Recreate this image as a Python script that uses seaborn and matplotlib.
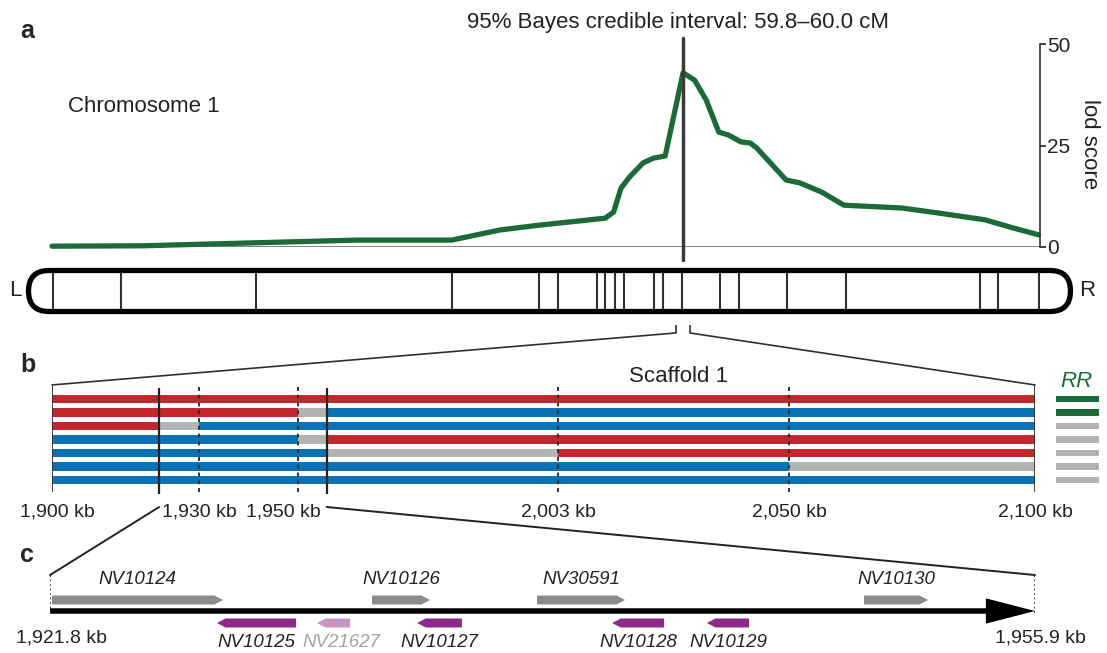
import numpy as np
import pandas as pd
import matplotlib
matplotlib.use("Agg")
import matplotlib.pyplot as plt
from matplotlib.patches import FancyBboxPatch, FancyArrow, ConnectionPatch
import seaborn as sns

# ------------------------------------------------------------------ data
# panel a: lod profile along chromosome 1
lod_cM = [0.0, 8.7, 18.8, 29.0, 38.0, 42.6, 46.4, 52.6, 53.4, 54.1, 54.9, 56.2,
          57.2, 58.3, 60.0, 61.1, 62.2, 63.4, 64.3, 65.5, 66.4, 67.0, 69.8, 71.1,
          73.2, 75.3, 80.8, 84.2, 88.7, 91.1, 93.8]
lod_score = [0.2, 0.3, 1.0, 1.7, 1.7, 4.2, 5.4, 7.1, 8.6, 14.5, 17.2, 20.7,
             21.9, 22.4, 42.9, 41.1, 36.2, 28.3, 27.6, 25.9, 25.6, 24.4, 16.5, 15.8,
             13.5, 10.3, 9.6, 8.4, 6.7, 4.9, 3.0]
lod_ticks = [0, 25, 50]
peak_cM = 60.0
marker_cM = [0.1, 6.6, 19.4, 38.0, 46.3, 48.1, 51.8, 52.6, 53.5, 54.4, 57.2,
             58.1, 59.9, 63.5, 65.3, 69.9, 75.5, 88.2, 89.9, 93.8]
scaffold_cM = [59.33, 60.66]

# panel b: genotypes along scaffold 1
scaffold_breaks_kb = [1900, 1921.8, 1930, 1950, 1955.9, 2003, 2050, 2100]
# A = red allele, B = blue allele, - = undetermined (grey)
genotypes = ["AAAAAAA", "AAA-BBB", "A-BBBBB", "BBB-AAA", "BBBB-AA", "BBBBBB-", "BBBBBBB"]
rr_status = [True, True, False, False, False, False, False]
scaffold_tick_kb = [1900, 1930, 1950, 2003, 2050, 2100]
scaffold_tick_labels = ["1,900 kb", "1,930 kb", "1,950 kb", "2,003 kb", "2,050 kb", "2,100 kb"]
dashed_kb = [1930, 1950, 2003, 2050]
interval_kb = [1921.8, 1955.9]

# panel c: genes in the interval
gene_names = ["NV10124", "NV10126", "NV30591", "NV10130",
              "NV10125", "NV21627", "NV10127", "NV10128", "NV10129"]
gene_start = [1921.87, 1932.95, 1938.66, 1949.98,
              1927.58, 1931.04, 1934.51, 1941.26, 1944.54]
gene_end = [1927.79, 1934.96, 1941.71, 1952.20,
            1930.32, 1932.19, 1936.06, 1943.06, 1946.00]
gene_strand = ["+", "+", "+", "+", "-", "-", "-", "-", "-"]
gene_faint = [False, False, False, False, False, True, False, False, False]
interval_labels = ["1,921.8 kb", "1,955.9 kb"]

# ------------------------------------------------------------------ style
sns.set_style("white")
plt.rcParams['font.family'] = ['Liberation Sans', 'DejaVu Sans']

GREEN = "#1b6a37"
RED = "#c1272d"
BLUE = "#0b72b6"
GREY = "#b3b3b3"
GENE_GREY = "#8b8b8b"
PURPLE = "#8c2b8c"
LIGHT_PURPLE = "#c597c5"
DARK = "#303030"
allele_colors = {"A": RED, "B": BLUE, "-": GREY}

W, H = 1107, 653
fig = plt.figure(figsize=(W / 100, H / 100), dpi=100)


def rect(l, t, r, b):
    return [l / W, 1 - b / H, (r - l) / W, (b - t) / H]


def ftext(x, y, s, **kw):
    fig.text(x / W, 1 - y / H, s, **kw)


# ------------------------------------------------------------------ panel a
ax_a = fig.add_axes(rect(52, 44, 1040, 247))
ax_a.patch.set_visible(False)
df = pd.DataFrame({"cM": lod_cM, "lod": lod_score})
sns.lineplot(data=df, x="cM", y="lod", ax=ax_a, color=GREEN, linewidth=3.8,
             clip_on=False, zorder=2, solid_capstyle="round", solid_joinstyle="round")
ax_a.set_xlim(0, 93.94)
ax_a.set_ylim(0, 50)
ax_a.axhline(0, color="#777777", lw=1.3, zorder=1)
ax_a.plot([peak_cM, peak_cM], [-3.2, 51.5], color="#3a3a3a", lw=2.5,
          clip_on=False, zorder=3)
ax_a.set_xticks([])
ax_a.set_yticks(lod_ticks)
ax_a.yaxis.tick_right()
ax_a.tick_params(axis="y", direction="out", length=4, width=1.2, labelsize=15,
                 pad=1, colors="#222222")
ax_a.set_xlabel("")
ax_a.set_ylabel("")
for side in ["top", "left", "bottom"]:
    ax_a.spines[side].set_visible(False)
ax_a.spines["right"].set_color("#333333")
ax_a.spines["right"].set_linewidth(1.2)

ftext(20, 38, "a", fontsize=18, fontweight="bold", ha="left", va="baseline")
ftext(678, 28, "95% Bayes credible interval: 59.8\u201360.0 cM", fontsize=16,
      ha="center", va="baseline", color="#222222")
ftext(68, 112, "Chromosome 1", fontsize=16, ha="left", va="baseline", color="#222222")
ftext(1090, 144, "lod score", fontsize=16, rotation=270, ha="center", va="center",
      color="#222222")

# ------------------------------------------------------------------ chromosome
ax_chr = fig.add_axes(rect(52, 262, 1040, 340))
ax_chr.patch.set_visible(False)
ax_chr.set_xlim(0, 93.94)
ax_chr.set_ylim(-4.659, 2.757)
ax_chr.axis("off")
chrom = FancyBboxPatch((-2.234, -1.949), 99.07, 3.898,
                       boxstyle="round,pad=0,rounding_size=1.949",
                       fc="white", ec="black", lw=3.8, clip_on=False, zorder=2)
ax_chr.add_patch(chrom)
ax_chr.vlines(marker_cM, -1.71, 1.71, color=DARK, lw=1.5, zorder=3)
ax_chr.vlines(scaffold_cM, -3.99, -3.23, color=DARK, lw=1.2)
ftext(15, 290, "L", fontsize=16, ha="center", va="center", color="#222222")
ftext(1087, 290, "R", fontsize=16, ha="center", va="center", color="#222222")

# ------------------------------------------------------------------ panel b
ax_b = fig.add_axes(rect(52, 385.5, 1035, 493.5))
ax_b.patch.set_visible(False)
ax_b.set_xlim(1900, 2100)
ax_b.set_ylim(7, -1)
ax_b.axis("off")
for i, code in enumerate(genotypes):
    for j, c in enumerate(code):
        ax_b.barh(i, scaffold_breaks_kb[j + 1] - scaffold_breaks_kb[j],
                  left=scaffold_breaks_kb[j], height=0.6,
                  color=allele_colors[c], linewidth=0, zorder=2)
for i, rr in enumerate(rr_status):
    ax_b.barh(i, 8.75, left=2104.27, height=0.5, color=GREEN if rr else GREY,
              linewidth=0, clip_on=False)
ax_b.vlines([scaffold_breaks_kb[0], scaffold_breaks_kb[-1]], -1.04, 6.89,
            color=DARK, lw=1.3, zorder=3)
ax_b.vlines(interval_kb, -0.81, 8.0, color="#222222", lw=1.6, zorder=3)
ax_b.vlines(dashed_kb, -0.89, 6.96, color=DARK, lw=1.4, linestyles=(0, (2, 2)),
            zorder=3)
for kb, lab in zip(scaffold_tick_kb, scaffold_tick_labels):
    dx = -10 if kb == 1950 else (4 if kb == 1900 else 0)
    ax_b.annotate(lab, (kb, 8.37), xytext=(dx, 0), textcoords="offset points",
                  ha="center", va="center", fontsize=14, color="#222222",
                  annotation_clip=False)
ftext(20, 372, "b", fontsize=18, fontweight="bold", ha="left", va="baseline")
ftext(629, 382, "Scaffold 1", fontsize=16, ha="left", va="baseline", color="#222222")
ftext(1076, 387, "RR", fontsize=16, style="italic", color=GREEN, ha="center",
      va="baseline")

for xa, xb in zip(scaffold_cM, [scaffold_breaks_kb[0], scaffold_breaks_kb[-1]]):
    con = ConnectionPatch(xyA=(xa, -3.99), coordsA=ax_chr.transData,
                          xyB=(xb, -1.04), coordsB=ax_b.transData,
                          color=DARK, lw=1.2)
    fig.add_artist(con)

# ------------------------------------------------------------------ panel c
ax_c = fig.add_axes(rect(50, 562, 1035, 655))
ax_c.patch.set_visible(False)
ax_c.set_xlim(interval_kb[0], interval_kb[1])
ax_c.set_ylim(-4, 4.4545)
ax_c.axis("off")

span = interval_kb[1] - interval_kb[0]
ax_c.add_patch(FancyArrow(interval_kb[0], 0, span, 0, width=0.5, head_width=2.3,
                          head_length=1.7, length_includes_head=True,
                          color="black", lw=0, zorder=3))
ax_c.vlines(interval_kb, -0.15, 3.27, color=DARK, lw=1.3,
            linestyles=(0, (1, 1.5)), zorder=4)

for name, s, e, strand, faint in zip(gene_names, gene_start, gene_end,
                                     gene_strand, gene_faint):
    if strand == "+":
        arr = FancyArrow(s, 1.0, e - s, 0, width=0.82, head_width=0.82,
                         head_length=0.3, length_includes_head=True,
                         color=GENE_GREY, lw=0)
        ax_c.add_patch(arr)
        ax_c.text((s + e) / 2, 2.82, name, ha="center", va="center", fontsize=13.5,
                  style="italic", color="#222222")
    else:
        col = LIGHT_PURPLE if faint else PURPLE
        arr = FancyArrow(e, -1.09, -(e - s), 0, width=0.82, head_width=0.82,
                         head_length=0.3, length_includes_head=True,
                         color=col, lw=0)
        ax_c.add_patch(arr)
        dx = 6 if faint else 0
        ax_c.annotate(name, ((s + e) / 2, -2.9), xytext=(dx, 0),
                      textcoords="offset points", ha="center", va="center",
                      fontsize=13.5, style="italic",
                      color="#a3a3a3" if faint else "#222222",
                      annotation_clip=False)

for kb, lab, dx in zip(interval_kb, interval_labels, [8, 4]):
    ax_c.annotate(lab, (kb, -2.45), xytext=(dx, 0), textcoords="offset points",
                  ha="center", va="center", fontsize=14, color="#222222",
                  annotation_clip=False)
ftext(20, 562, "c", fontsize=18, fontweight="bold", ha="left", va="baseline")

for kb in interval_kb:
    con = ConnectionPatch(xyA=(kb, 8.0), coordsA=ax_b.transData,
                          xyB=(kb, 3.27), coordsB=ax_c.transData,
                          color="#222222", lw=1.4)
    fig.add_artist(con)

fig.savefig("out.png", dpi=100)
